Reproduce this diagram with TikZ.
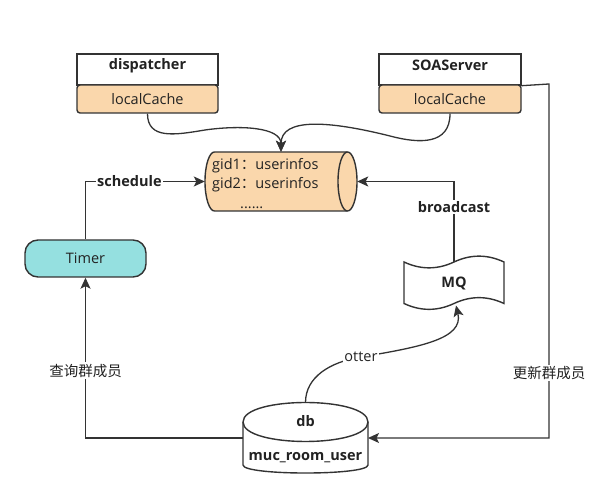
\documentclass[tikz,border=0pt]{standalone}
\usepackage{fontspec}
\setmainfont{Open Sans}
\newfontfamily\cjk{Noto Sans CJK SC}
\usetikzlibrary{arrows.meta}
\definecolor{peach}{HTML}{FAD7AC}
\definecolor{tealfill}{HTML}{95E0E0}
\definecolor{ln}{HTML}{333333}
\definecolor{txt}{HTML}{222222}
\begin{document}
\begin{tikzpicture}[x=1pt,y=1pt,
  every node/.style={font=\fontsize{14.5}{17}\selectfont, text=txt, inner sep=0pt},
  box/.style={draw=ln, line width=1.4pt},
  shp/.style={draw=ln, line width=1.4pt},
  conn/.style={draw=ln, line width=1.3pt, -{Stealth[length=11pt,width=10pt,inset=2.5pt]}},
  lbl/.style={fill=white, inner sep=1.5pt},
]
\useasboundingbox (0,0) rectangle (607,489);

% dispatcher
\node[box, fill=white, minimum width=141pt, minimum height=31pt] (dh) at (147.5,419.5) {};
\node[box, fill=peach, rounded corners=3pt, minimum width=141pt, minimum height=28pt] (dl) at (147.5,390) {localCache};
\node (dht) at ([yshift=4pt]dh.center) {\bfseries dispatcher};

% SOAServer
\node[box, fill=white, minimum width=142pt, minimum height=31pt] (sh) at (450,419.5) {};
\node[box, fill=peach, rounded corners=3pt, minimum width=142pt, minimum height=28pt] (sl) at (450,390) {localCache};
\node (sht) at ([yshift=4pt]sh.center) {\bfseries SOAServer};

% cache cylinder (horizontal)
\path[shp, fill=peach] (214.5,337) -- (347.5,337)
  arc[start angle=90, end angle=-90, x radius=9.5, y radius=29.5]
  -- (214.5,278)
  arc[start angle=270, end angle=90, x radius=9.5, y radius=29.5] -- cycle;
\draw[shp] (347.5,337) arc[start angle=90, end angle=270, x radius=9.5, y radius=29.5];
\node[minimum width=152pt, minimum height=59pt] (cyl) at (281,307.5) {};
\node[align=left, anchor=west, font=\fontsize{14.5}{19.5}\selectfont] (cyltxt) at (212,305.5)
  {gid1{\cjk ：}userinfos\\gid2{\cjk ：}userinfos\\\hspace*{28pt}......};

% Timer
\node[box, fill=tealfill, rounded corners=13pt, minimum width=121pt, minimum height=37pt] (timer) at (85.5,230.5) {Timer};

% MQ tape
\path[shp, fill=white] (404,227)
  .. controls (420.67,219.2) and (437.33,219.2) .. (454,227)
  .. controls (470.67,234.8) and (487.33,234.8) .. (504,227)
  -- (504,185.5)
  .. controls (487.33,193.3) and (470.67,193.3) .. (454,185.5)
  .. controls (437.33,177.7) and (420.67,177.7) .. (404,185.5) -- cycle;
\node (mq) at (454,206) {\bfseries MQ};
\coordinate (mqtop) at (454,227);
\coordinate (mqbot) at (456,183.5);

% db cylinder (vertical)
\path[shp, fill=white] (243,67)
  .. controls (243,93) and (368,93) .. (368,67)
  -- (368,24)
  .. controls (368,13.3) and (243,13.3) .. (243,24) -- cycle;
\draw[shp] (243,67) .. controls (243,41) and (368,41) .. (368,67);
\node (db) at (305.5,68) {\bfseries db};
\node (dbt) at (305.5,31) {\bfseries muc\_room\_user};
\coordinate (dbtop) at (305.5,86.5);
\coordinate (dbleft) at (243,51);
\coordinate (dbright) at (368,51);
\coordinate (rc) at (549,405);

% connectors
\draw[conn] (dl.south) .. controls +(0,-26) and (175,354) .. (205,359)
  .. controls (240,364) and (281,362) .. (cyl.north);
\draw[conn] (sl.south) .. controls +(0,-31) and (420,345) .. (390,353)
  .. controls (330,368) and (281,372) .. (cyl.north);
\draw[conn] (timer.north) |- node[lbl, pos=0.684] {\bfseries schedule} (cyl.west);
\draw[conn] (mqtop) |- node[lbl, pos=0.34] {\bfseries broadcast} (cyl.east);
\draw[conn] (sh.south east) -- (rc) |- node[lbl, pos=0.408] {\cjk 更新群成员} (dbright);
\draw[conn] (dbleft) -| node[lbl, pos=0.71] {\cjk 查询群成员} (timer.south);
\draw[conn] (dbtop) .. controls (305.5,112) and (330,127) .. (361,132) node[lbl] {otter}
  .. controls (420,142) and (464,150) .. (mqbot);
\end{tikzpicture}
\end{document}
